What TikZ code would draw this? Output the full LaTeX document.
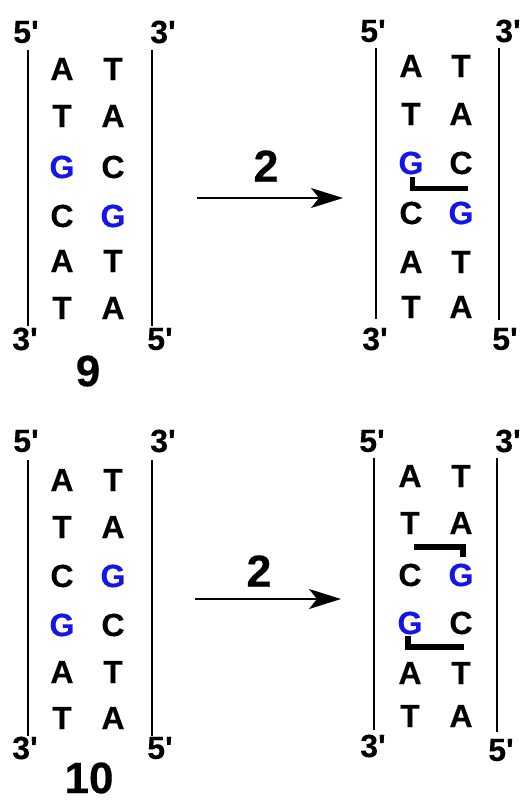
\documentclass[tikz,border=0pt]{standalone}
\usepackage{fontspec}
\newfontfamily\hv[FakeBold=0.3]{Liberation Sans}
\usetikzlibrary{arrows.meta}
\definecolor{gblue}{RGB}{20,20,235}
\tikzset{
  base/.style={font=\hv\bfseries\fontsize{32}{36}\selectfont, inner sep=0pt},
  gbase/.style={base, text=gblue},
  endlab/.style={font=\hv\bfseries\fontsize{32}{36}\selectfont, inner sep=0pt},
  cmpd/.style={font=\hv\bfseries\fontsize{44}{48}\selectfont, inner sep=0pt},
  rxn/.style={font=\hv\bfseries\fontsize{45}{50}\selectfont, inner sep=0pt},
  strand/.style={line width=1.8pt},
  rxnarrow/.style={line width=1.6pt, -{Stealth[length=32pt, width=20pt, inset=8pt]}},
  xlink/.style={line width=5.5pt, line cap=butt, line join=miter}
}
\begin{document}
\begin{tikzpicture}[x=1pt, y=-1pt]
\useasboundingbox (0,0) rectangle (521,804);

% ---------- duplex 9 ----------
\node[endlab] (a5t) at (26,32) {5'};
\node[endlab] (a3t) at (163,32) {3'};
\node[endlab] (a3b) at (25,339) {3'};
\node[endlab] (a5b) at (160,339) {5'};
\coordinate (aLt) at (28,50); \coordinate (aLb) at (28,326);
\coordinate (aRt) at (152,50); \coordinate (aRb) at (152,326);
\draw[strand] (aLt) -- (aLb);
\draw[strand] (aRt) -- (aRb);
\node[base]  (a11) at (62,69)  {A}; \node[base]  (a12) at (113,69)  {T};
\node[base]  (a21) at (62,116) {T}; \node[base]  (a22) at (113,116) {A};
\node[gbase] (a31) at (62,167) {G}; \node[base]  (a32) at (113,167) {C};
\node[base]  (a41) at (62,216) {C}; \node[gbase] (a42) at (113,216) {G};
\node[base]  (a51) at (62,261) {A}; \node[base]  (a52) at (113,261) {T};
\node[base]  (a61) at (62,308) {T}; \node[base]  (a62) at (113,308) {A};
\node[cmpd] (n9) at (88,371) {9};

% ---------- cross-linked 9 ----------
\node[endlab] (b5t) at (373,31) {5'};
\node[endlab] (b3t) at (508,31) {3'};
\node[endlab] (b3b) at (375,339) {3'};
\node[endlab] (b5b) at (505,339) {5'};
\coordinate (bLt) at (376,48); \coordinate (bLb) at (376,319);
\coordinate (bRt) at (499,48); \coordinate (bRb) at (499,320);
\draw[strand] (bLt) -- (bLb);
\draw[strand] (bRt) -- (bRb);
\node[base]  (b11) at (411,66)  {A}; \node[base]  (b12) at (461,66)  {T};
\node[base]  (b21) at (411,114) {T}; \node[base]  (b22) at (461,114) {A};
\node[gbase] (b31) at (411,163) {G}; \node[base]  (b32) at (461,163) {C};
\node[base]  (b41) at (411,213) {C}; \node[gbase] (b42) at (461,213) {G};
\node[base]  (b51) at (411,262) {A}; \node[base]  (b52) at (461,262) {T};
\node[base]  (b61) at (411,307) {T}; \node[base]  (b62) at (461,307) {A};
\coordinate (bx1) at (412.5,177);
\coordinate (bx2) at (412.5,188.5);
\coordinate (bx3) at (468,188.5);
\draw[xlink] (bx1) -- (bx2) -- (bx3);

\coordinate (r1s) at (197,198); \coordinate (r1e) at (343,198);
\draw[rxnarrow] (r1s) -- (r1e);
\node[rxn] (r1) at (266,166) {2};

% ---------- duplex 10 ----------
\node[endlab] (c5t) at (26,441) {5'};
\node[endlab] (c3t) at (163,441) {3'};
\node[endlab] (c3b) at (25,748) {3'};
\node[endlab] (c5b) at (160,748) {5'};
\coordinate (cLt) at (28,460); \coordinate (cLb) at (28,736);
\coordinate (cRt) at (152,460); \coordinate (cRb) at (152,736);
\draw[strand] (cLt) -- (cLb);
\draw[strand] (cRt) -- (cRb);
\node[base]  (c11) at (62,480) {A}; \node[base]  (c12) at (113,480) {T};
\node[base]  (c21) at (62,527) {T}; \node[base]  (c22) at (113,527) {A};
\node[base]  (c31) at (62,576) {C}; \node[gbase] (c32) at (113,576) {G};
\node[gbase] (c41) at (62,625) {G}; \node[base]  (c42) at (113,625) {C};
\node[base]  (c51) at (62,672) {A}; \node[base]  (c52) at (113,672) {T};
\node[base]  (c61) at (62,718) {T}; \node[base]  (c62) at (113,718) {A};
\node[cmpd] (n10) at (89,778) {10};

% ---------- cross-linked 10 ----------
\node[endlab] (d5t) at (372,441) {5'};
\node[endlab] (d3t) at (508,441) {3'};
\node[endlab] (d3b) at (373,746) {3'};
\node[endlab] (d5b) at (501,750) {5'};
\coordinate (dLt) at (374,458); \coordinate (dLb) at (374,730);
\coordinate (dRt) at (497,458); \coordinate (dRb) at (497,732);
\draw[strand] (dLt) -- (dLb);
\draw[strand] (dRt) -- (dRb);
\node[base]  (d11) at (410,476) {A}; \node[base]  (d12) at (461,476) {T};
\node[base]  (d21) at (410,523) {T}; \node[base]  (d22) at (461,523) {A};
\node[base]  (d31) at (410,575) {C}; \node[gbase] (d32) at (461,575) {G};
\node[gbase] (d41) at (410,623) {G}; \node[base]  (d42) at (461,623) {C};
\node[base]  (d51) at (410,673) {A}; \node[base]  (d52) at (461,673) {T};
\node[base]  (d61) at (410,716) {T}; \node[base]  (d62) at (461,716) {A};
\coordinate (dx1) at (414,547);
\coordinate (dx2) at (463,547);
\coordinate (dx3) at (463,557);
\draw[xlink] (dx1) -- (dx2) -- (dx3);
\coordinate (dy1) at (408,636);
\coordinate (dy2) at (408,647);
\coordinate (dy3) at (464,647);
\draw[xlink] (dy1) -- (dy2) -- (dy3);

\coordinate (r2s) at (195,599); \coordinate (r2e) at (341,599);
\draw[rxnarrow] (r2s) -- (r2e);
\node[rxn] (r2) at (259,571) {2};
\end{tikzpicture}
\end{document}
